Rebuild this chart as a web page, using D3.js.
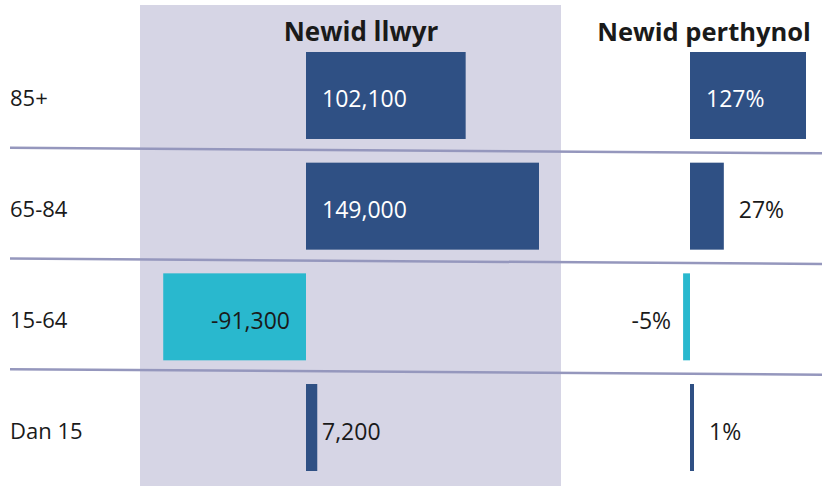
<!DOCTYPE html>
<html>
<head>
<meta charset="utf-8">
<script src="https://cdn.jsdelivr.net/npm/d3@7"></script>
<style>
  html, body { margin: 0; padding: 0; background: #ffffff; }
  svg { display: block; }
  text { font-family: "Open Sans", "Noto Sans", sans-serif; }
</style>
</head>
<body>
<svg id="chart" width="822" height="486"></svg>
<script>
// ---- data ----
const categories = ["85+", "65-84", "15-64", "Dan 15"];
const absoluteChange = [102100, 149000, -91300, 7200];
const relativeChange = [127, 27, -5, 1];
const panelTitles = ["Newid llwyr", "Newid perthynol"];

const W = 822, H = 486;
const svg = d3.select("#chart");

const colPos = "#2f5084";
const colNeg = "#29b8ce";
const textDark = "#1a1a1a";

// shaded panel
svg.append("rect").attr("x", 140).attr("y", 5).attr("width", 421).attr("height", H - 5)
  .attr("fill", "#d6d5e5");

// row scale
const y = d3.scaleBand().domain(categories).range([52, 471]).paddingInner(0.214).paddingOuter(0);

// left panel: linear absolute change
const xAbs = d3.scaleLinear().domain([0, 149000]).range([306, 539]);
// right panel: symlog relative change
const xRel = d3.scaleSymlog().constant(100).domain([0, 127]).range([690, 806]);

// separator lines
for (let i = 1; i < categories.length; i++) {
  const mid = (y(categories[i - 1]) + y.bandwidth() + y(categories[i])) / 2;
  svg.append("line")
    .attr("x1", 10).attr("x2", W)
    .attr("y1", mid - 3).attr("y2", mid + 2.5)
    .attr("stroke", "#9597bd").attr("stroke-width", 2.5);
}

// titles
svg.append("text").attr("x", 361).attr("y", 41).attr("text-anchor", "middle")
  .attr("font-size", 26).attr("font-weight", 700).attr("fill", textDark).text(panelTitles[0]);
svg.append("text").attr("x", 704).attr("y", 41).attr("text-anchor", "middle")
  .attr("font-size", 25.5).attr("font-weight", 700).attr("fill", textDark).text(panelTitles[1]);

// category labels
svg.selectAll("text.cat").data(categories).enter().append("text")
  .attr("class", "cat")
  .attr("x", 10)
  .attr("y", d => y(d) + y.bandwidth() / 2 + 11)
  .attr("font-size", 22).attr("fill", textDark)
  .text(d => d);

const fmtAbs = v => d3.format(",")(v).replace("\u2212", "-");

function drawPanel(values, scale, fmt, minW, insideMin, outsidePad, negInside, negPad) {
  const zero = scale(0);
  const rows = categories.map((c, i) => ({ c, v: values[i] }));
  svg.selectAll(null).data(rows).enter().append("rect")
    .attr("x", d => Math.min(scale(d.v), zero))
    .attr("y", d => y(d.c))
    .attr("width", d => Math.max(Math.abs(scale(d.v) - zero), minW))
    .attr("height", y.bandwidth())
    .attr("fill", d => d.v >= 0 ? colPos : colNeg);
  svg.selectAll(null).data(rows).enter().append("text")
    .attr("x", d => {
      if (d.v >= 0) {
        const end = zero + Math.max(scale(d.v) - zero, minW);
        return (end - zero) >= insideMin ? zero + 16 : Math.max(zero + 16, end + outsidePad);
      }
      return negInside ? zero - 16 : scale(d.v) - negPad;
    })
    .attr("y", d => y(d.c) + y.bandwidth() / 2 + 12)
    .attr("text-anchor", d => d.v >= 0 ? "start" : "end")
    .attr("font-size", 23)
    .attr("fill", d => (d.v >= 0 && (scale(d.v) - zero) >= insideMin) ? "#ffffff" : textDark)
    .text(d => fmt(d.v));
}

drawPanel(absoluteChange, xAbs, fmtAbs, 3, 100, 3, true, 12);
drawPanel(relativeChange, xRel, v => v + "%", 4, 80, 15, false, 12);
</script>
</body>
</html>
